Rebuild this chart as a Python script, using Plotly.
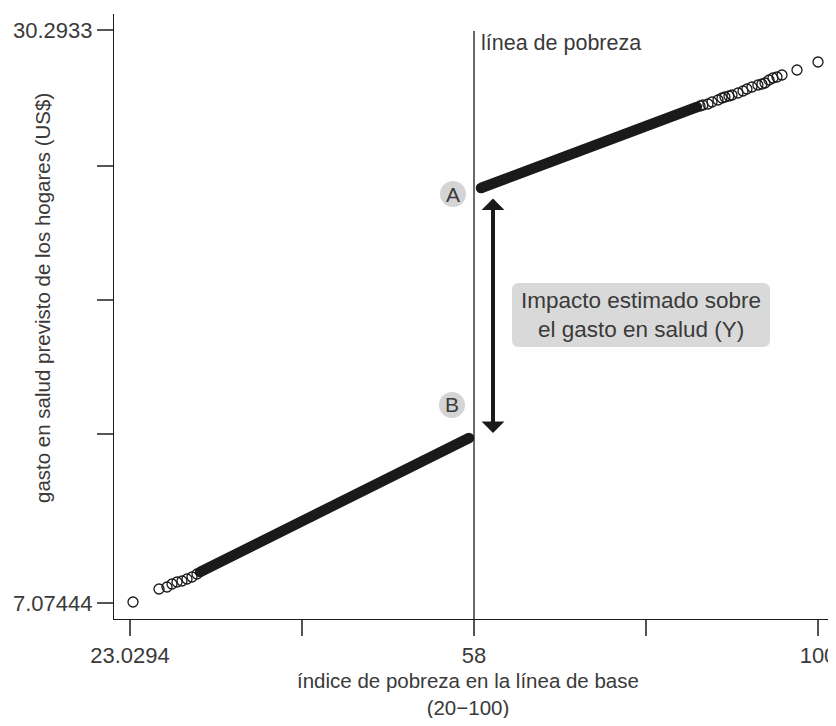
import plotly.graph_objects as go

# eje x: posiciones de las marcas y sus etiquetas (el gráfico original no es lineal en las etiquetas)
x_ticks = [23.0294, 42.2721, 61.5147, 80.7574, 100]
x_ticktext = ["23.0294", "", "58", "", "100"]
y_ticks = [7.07444, 13.922, 19.352, 24.783, 30.2933]
y_ticktext = ["7.07444", "", "", "", "30.2933"]
corte = 61.5147

# tramo denso (banda de puntos) a cada lado de la línea de pobreza
banda_izq_x = [30.861, 60.956]
banda_izq_y = [8.331, 13.761]
banda_der_x = [62.298, 86.46]
banda_der_y = [23.891, 27.173]

# observaciones dispersas en los extremos
puntos_izq_x = [23.365, 26.274, 27.169, 27.728, 28.288, 28.847, 29.406, 29.966, 30.525]
puntos_izq_y = [7.115, 7.642, 7.723, 7.844, 7.925, 7.966, 8.047, 8.128, 8.250]
puntos_der_x = [86.80, 87.13, 87.69, 88.14, 88.81, 89.26, 89.59, 90.04, 90.38, 91.05, 91.61, 92.05,
                92.61, 93.28, 93.73, 94.07, 94.52, 94.96, 95.41, 95.97, 97.65, 100.0]
puntos_der_y = [27.213, 27.254, 27.295, 27.376, 27.457, 27.538, 27.578, 27.618, 27.659, 27.740, 27.821, 27.902,
                27.983, 28.064, 28.105, 28.145, 28.267, 28.348, 28.389, 28.470, 28.672, 28.996]

# flecha del impacto y etiquetas A / B
flecha_x = 63.64
flecha_y = [13.963, 23.527]
etiquetas = ["A", "B"]
etiquetas_x = [59.165, 59.053]
etiquetas_y = [23.648, 15.098]

negro = "#1a1a1a"
texto = "#3a3a3a"
fuente = "Liberation Sans"

fig = go.Figure()
for bx, by in [(banda_izq_x, banda_izq_y), (banda_der_x, banda_der_y)]:
    fig.add_trace(go.Scatter(x=bx, y=by, mode="lines+markers",
                             line=dict(color=negro, width=10.5),
                             marker=dict(color=negro, size=10.5),
                             hoverinfo="skip", showlegend=False))
fig.add_trace(go.Scatter(x=puntos_izq_x + puntos_der_x, y=puntos_izq_y + puntos_der_y,
                         mode="markers",
                         marker=dict(symbol="circle-open", size=10, color=negro,
                                     line=dict(width=1.3, color=negro)),
                         showlegend=False))

fig.add_shape(type="line", x0=corte, x1=corte, y0=6.4261, y1=30.25,
              line=dict(color=negro, width=1.3))
fig.add_annotation(x=corte, y=29.767, text="línea de pobreza", showarrow=False,
                   xanchor="left", yanchor="middle", xshift=5,
                   font=dict(size=21.5, color=texto))

fig.add_annotation(x=flecha_x, y=flecha_y[0], ax=flecha_x, ay=flecha_y[1],
                   axref="x", ayref="y", text="", showarrow=True,
                   arrowhead=1, startarrowhead=1, arrowside="end+start",
                   arrowwidth=4, arrowsize=0.95, startarrowsize=0.95,
                   arrowcolor=negro, standoff=0, startstandoff=0)

for t, ex, ey in zip(etiquetas, etiquetas_x, etiquetas_y):
    fig.add_shape(type="circle", xref="x", yref="y", xsizemode="pixel", ysizemode="pixel",
                  xanchor=ex, yanchor=ey, x0=-13, x1=13, y0=-13, y1=13,
                  fillcolor="#d4d4d4", line=dict(width=0), layer="below")
    fig.add_annotation(x=ex, y=ey, text=t, showarrow=False,
                       font=dict(size=21, color=texto))

# recuadro gris con esquinas redondeadas
w, h, r = 129, 32, 7
caja = (f"M{-w + r},{-h} L{w - r},{-h} Q{w},{-h} {w},{-h + r} L{w},{h - r} Q{w},{h} {w - r},{h} "
        f"L{-w + r},{h} Q{-w},{h} {-w},{h - r} L{-w},{-h + r} Q{-w},{-h} {-w + r},{-h} Z")
fig.add_shape(type="path", xref="x", yref="y", xsizemode="pixel", ysizemode="pixel",
              xanchor=80.198, yanchor=18.745, path=caja,
              fillcolor="#d9d9d9", line=dict(width=0), layer="below")
fig.add_annotation(x=80.198, y=18.745,
                   text="Impacto estimado sobre<br>el gasto en salud (Y)",
                   showarrow=False, align="center",
                   font=dict(size=22.5, color=texto))

fig.add_annotation(xref="paper", yref="paper", x=-0.0983, y=0.5306, textangle=-90,
                   xanchor="center", yanchor="middle",
                   text="gasto en salud previsto de los hogares (US$)", showarrow=False,
                   font=dict(size=20.5, color=texto))
fig.add_annotation(xref="paper", yref="paper", x=0.49, y=-0.08, yanchor="top",
                   text="índice de pobreza en la línea de base<br>(20−100)", showarrow=False,
                   font=dict(size=20.5, color=texto))

# la página añade 8 px de margen: el lienzo no debe desbordar la ventana
fig.update_layout(
    width=828, height=710,
    margin=dict(l=106, r=0, t=6, b=99),
    plot_bgcolor="white", paper_bgcolor="white",
    font=dict(family=fuente, color=texto),
    xaxis=dict(range=[21.239, 102.014], tickvals=x_ticks, ticktext=x_ticktext,
               showgrid=False, zeroline=False, showline=True, linecolor=negro, linewidth=1.3,
               ticks="outside", ticklen=16, tickwidth=1.5, tickcolor="#555",
               ticklabeloverflow="allow",
               tickfont=dict(size=22, color=texto)),
    yaxis=dict(range=[6.4261, 30.9417], tickvals=y_ticks, ticktext=y_ticktext,
               showgrid=False, zeroline=False, showline=True, linecolor=negro, linewidth=1.3,
               ticks="outside", ticklen=16, tickwidth=1.5, tickcolor="#555",
               tickfont=dict(size=22, color=texto)),
)

fig.write_html("out.html")
